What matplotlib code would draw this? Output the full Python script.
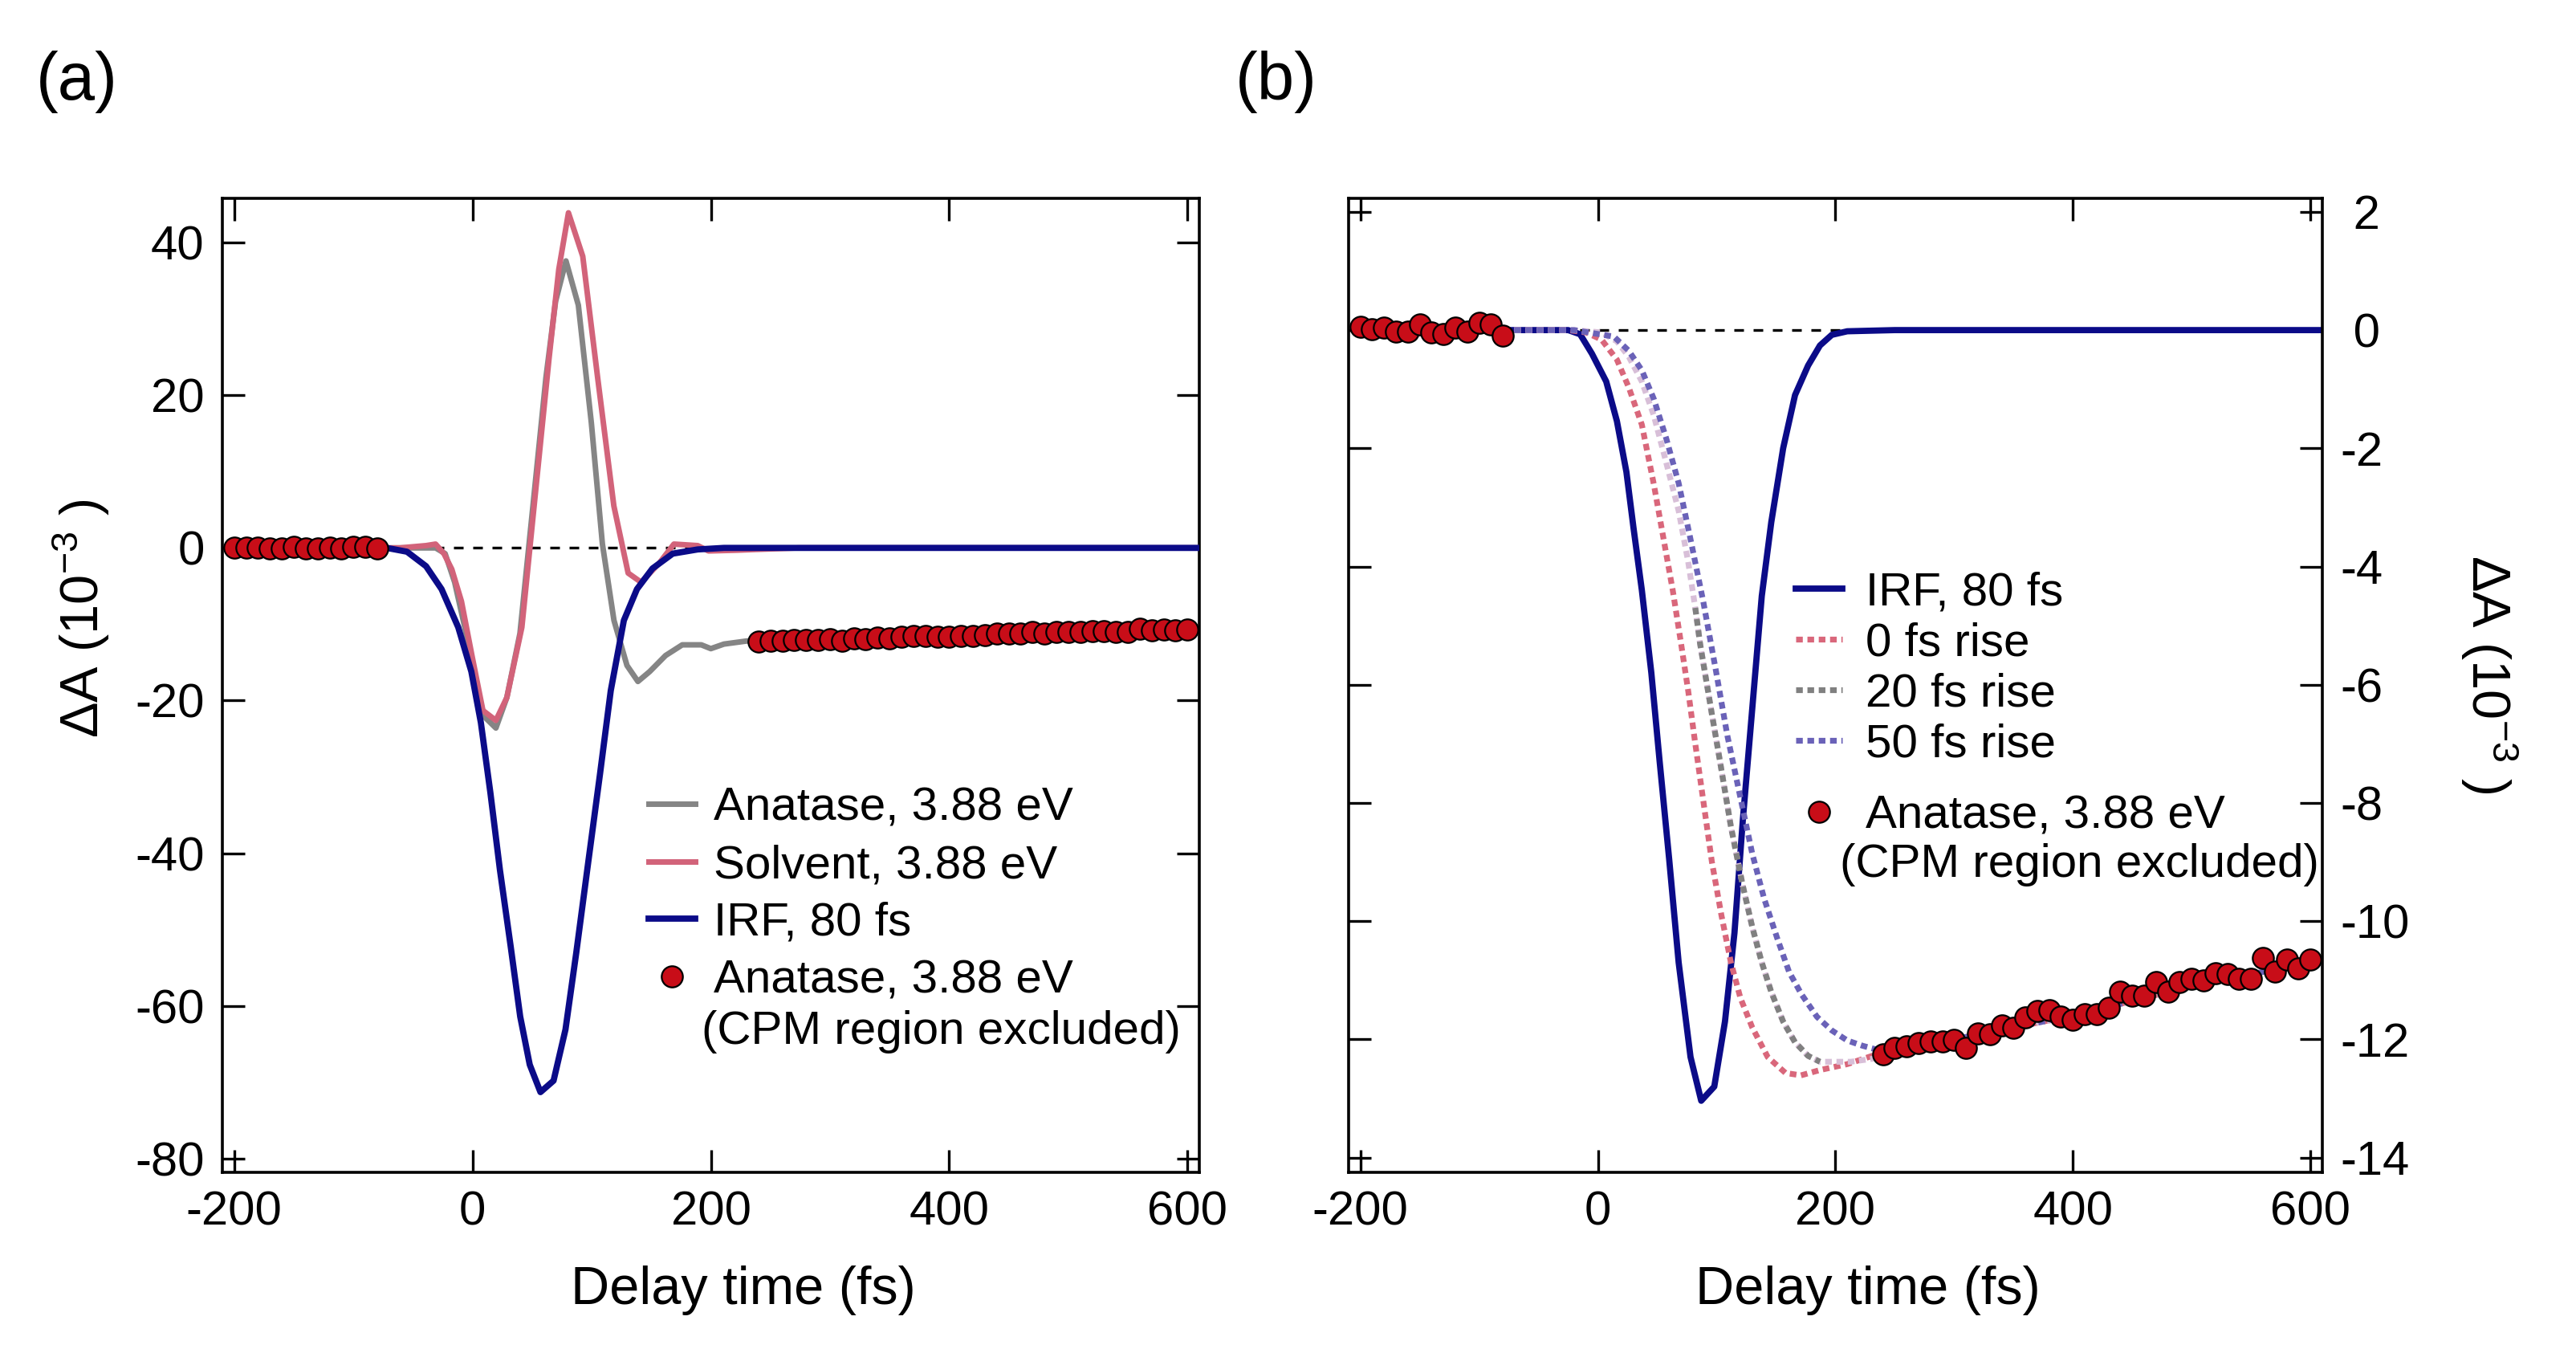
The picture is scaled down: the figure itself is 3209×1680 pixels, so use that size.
import matplotlib
matplotlib.use('Agg')
import matplotlib.pyplot as plt
from matplotlib.ticker import FuncFormatter

plt.rcParams['font.family'] = ['Liberation Sans', 'DejaVu Sans']
plt.rcParams['mathtext.default'] = 'regular'
plt.rcParams['axes.unicode_minus'] = False

# ---------------- data (delay in fs, dA in 1e-3) ----------------
# Anatase, 3.88 eV, CPM region excluded (circles)
pts_t_early = [-200, -190, -180, -170, -160, -150, -140, -130, -120, -110, -100, -90, -80]
pts_a_early = [0.05, 0.02, 0.04, -0.03, -0.02, 0.10, -0.04, -0.06, 0.04, -0.03, 0.12, 0.09, -0.10]
pts_t_late = [240, 250, 260, 270, 280, 290, 300, 310, 320, 330, 340, 350, 360, 370, 380,
              390, 400, 410, 420, 430, 440, 450, 460, 470, 480, 490, 500, 510, 520, 530,
              540, 550, 560, 570, 580, 590, 600]
pts_a_late = [-12.26, -12.14, -12.12, -12.07, -12.03, -12.04, -12.01, -12.14, -11.90, -11.91,
              -11.77, -11.81, -11.63, -11.52, -11.50, -11.62, -11.67, -11.57, -11.58, -11.47,
              -11.19, -11.26, -11.26, -11.03, -11.20, -11.03, -10.98, -11.00, -10.88, -10.90,
              -10.97, -10.98, -10.63, -10.85, -10.65, -10.80, -10.65]

# Panel (a): Anatase (full trace), solvent, IRF
anatase_t = [-72, -61, -31, -23, -15, -6.5, 1.6, 9.8, 19.6, 28.8, 39.8, 50.7, 61.6, 69.7, 78.4,
             88.8, 99.7, 109, 118.7, 129.6, 138.8, 148.7, 162, 176, 192, 200, 211, 230, 240,
             300, 400, 500, 600]
anatase_a = [0, 0, 0, -0.75, -4.5, -10.4, -17.1, -22.1, -23.6, -19.6, -11.2, 5.5, 22.3, 32.3, 37.6,
             31.8, 16.4, 0.5, -9.5, -15.4, -17.5, -16.2, -14.1, -12.7, -12.7, -13.2, -12.6, -12.2, -12.2,
             -12.0, -11.6, -11.0, -10.7]
solvent_t = [-72, -61, -39, -31, -24, -17.4, -9.3, -1, 8.7, 19.6, 28.8, 41.4, 53.3, 64.2, 72.4,
             80.5, 92.5, 105, 118.6, 130.6, 141.5, 156.7, 169, 189, 198, 222, 238, 274, 400, 610]
solvent_a = [0, 0, 0.3, 0.5, -0.75, -2.8, -7.0, -13.7, -21.3, -22.6, -19.6, -10.4, 8.0, 24.8, 36.5,
             43.9, 38.2, 22.3, 5.5, -3.3, -4.5, -2.0, 0.5, 0.3, -0.4, -0.3, -0.2, 0, 0, 0]
irf_a_t = [-80, -72, -55, -39, -26, -12, -1, 7, 15, 23, 32, 40, 48, 57, 68, 78, 87, 97, 107, 116,
           127, 138, 151, 168, 189, 211, 300, 400, 500, 610]
irf_a_a = [0, 0, -0.5, -2.4, -5.4, -10.4, -16.2, -22.9, -32.1, -42.2, -52.2, -61.4, -67.7, -71.3,
           -69.8, -63.1, -53.1, -41.3, -29.6, -18.7, -9.5, -5.4, -2.7, -0.75, -0.2, 0, 0, 0, 0, 0]

# Panel (b): IRF and fits with rise times
irf_b_t = [-80, -25, -15, -5, 7, 16, 24, 30, 37, 45, 52, 60, 68, 73, 78, 87, 98, 107, 115, 122,
           130, 138, 146, 156, 166, 177, 187, 197, 210, 250, 400, 610]
irf_b_a = [0, 0, -0.07, -0.4, -0.87, -1.54, -2.4, -3.35, -4.4, -5.8, -7.3, -8.95, -10.7, -11.5,
           -12.3, -13.04, -12.8, -11.7, -10.2, -8.3, -6.4, -4.5, -3.25, -2.0, -1.1, -0.6, -0.26,
           -0.08, -0.02, 0, 0, 0]
rise0_t = [-80, -25, -10, 3, 16, 26, 37, 47, 55, 63, 70, 76, 82, 89, 96, 104, 112, 120, 130, 143,
           158, 171, 187, 210, 231, 240, 300, 400, 500, 600]
rise0_a = [0, 0, -0.04, -0.16, -0.5, -0.97, -1.6, -2.6, -3.5, -4.4, -5.3, -6.1, -7.0, -8.0, -9.0,
           -9.9, -10.7, -11.3, -11.8, -12.3, -12.57, -12.61, -12.52, -12.42, -12.28, -12.26,
           -12.0, -11.6, -11.1, -10.7]
rise20_t = [-80, -20, 3, 16, 26, 37, 47, 57, 68, 76, 82, 86, 91, 96, 102, 107, 112, 117, 122, 130,
            138, 146, 156, 166, 177, 187, 197, 213, 231, 240, 300, 400, 500, 600]
rise20_a = [0, 0, -0.04, -0.19, -0.45, -0.87, -1.44, -2.2, -3.06, -3.92, -4.7, -5.3, -5.9, -6.5,
            -7.2, -7.8, -8.4, -8.9, -9.4, -10.1, -10.7, -11.2, -11.7, -12.05, -12.28, -12.38,
            -12.38, -12.38, -12.33, -12.28, -12.0, -11.6, -11.1, -10.7]
rise50_t = [-80, -20, 13.5, 26, 37, 47, 57.5, 68, 78, 88.6, 99, 109, 120, 130, 140, 151, 161,
            171.5, 184.5, 197, 210, 223, 234, 240, 300, 400, 500, 600]
rise50_a = [0, 0, -0.11, -0.35, -0.68, -1.16, -1.83, -2.59, -3.54, -4.58, -5.72, -6.86, -7.91,
            -8.86, -9.62, -10.29, -10.86, -11.24, -11.62, -11.85, -12.02, -12.11, -12.17, -12.2,
            -12.0, -11.6, -11.1, -10.7]

xticks = [-200, 0, 200, 400, 600]
yticks_a = [-80, -60, -40, -20, 0, 20, 40]
yticks_b = [-14, -12, -10, -8, -6, -4, -2, 0, 2]

# ---------------- style ----------------
NAVY = '#0b0b88'
PINK = '#d2637a'
GRAY = '#858585'
RED = '#c80d18'
DPINK = '#d9677b'
DGRAY = '#808080'
DBLUE = '#6a62b8'
THISTLE = '#d8bfd8'
FS_TICK = 21.5
FS_LAB = 24
FS_LEG = 21
dots = (0, (1.15, 0.8))
LW_DOT = 2.6

fig = plt.figure(figsize=(16.045, 8.4), dpi=200)
axa = fig.add_axes([0.0863, 0.131, 0.3793, 0.722])
axb = fig.add_axes([0.5235, 0.131, 0.378, 0.722])

for ax in (axa, axb):
    ax.axhline(0, color='k', lw=1.2, ls=(0, (3.6, 3.6)), zorder=1)
    ax.set_xlim(-210, 610)
    ax.set_xticks(xticks)
    ax.tick_params(direction='in', length=10, width=1.2, top=True, right=True,
                   labelsize=FS_TICK, pad=8)
    for s in ax.spines.values():
        s.set_linewidth(1.3)
    ax.set_xlabel('Delay time (fs)', fontsize=FS_LAB)
    ax.xaxis.set_label_coords(0.533, -0.121)
    ax.xaxis.label.set_va('center')

# ---- panel (a)
l_an, = axa.plot(anatase_t, anatase_a, color=GRAY, lw=2.5, zorder=2)
l_sv, = axa.plot(solvent_t, solvent_a, color=PINK, lw=2.5, zorder=3)
l_irf, = axa.plot(irf_a_t, irf_a_a, color=NAVY, lw=2.8, zorder=4)
mk = dict(ls='none', marker='o', ms=9.5, mfc=RED, mec='k', mew=0.8, zorder=6)
c_a, = axa.plot(pts_t_early, pts_a_early, **mk)
axa.plot(pts_t_late, pts_a_late, **mk)
axa.set_ylim(-81.8, 45.8)
axa.set_yticks(yticks_a)
axa.set_ylabel(r'ΔA (10$^{-3}$ )', fontsize=FS_LAB, rotation=90, rotation_mode='default')
axa.yaxis.set_label_coords(-0.144, 0.569)
axa.yaxis.label.set_ha('center')
axa.yaxis.label.set_va('center')
axa.legend([l_an, l_sv, l_irf, c_a],
           ['Anatase, 3.88 eV', 'Solvent, 3.88 eV', 'IRF, 80 fs', 'Anatase, 3.88 eV'],
           loc='upper left', bbox_to_anchor=(0.436, 0.396), frameon=False, fontsize=FS_LEG,
           handlelength=1.0, handletextpad=0.4, labelspacing=0.3, borderpad=0,
           borderaxespad=0, numpoints=1)
axa.text(0.4905, 0.144, '(CPM region excluded)', transform=axa.transAxes,
         fontsize=FS_LEG, ha='left', va='center')

# ---- panel (b)
b_irf, = axb.plot(irf_b_t, irf_b_a, color=NAVY, lw=2.8, zorder=2)
b_r0, = axb.plot(rise0_t, rise0_a, color=DPINK, lw=LW_DOT, ls=dots, zorder=3)
axb.plot(rise20_t, rise20_a, color=THISTLE, lw=LW_DOT, ls=dots, zorder=3)
b_r20, = axb.plot(rise20_t[10:26], rise20_a[10:26], color=DGRAY, lw=LW_DOT, ls=dots, zorder=3.5)
b_r50, = axb.plot(rise50_t, rise50_a, color=DBLUE, lw=LW_DOT, ls=dots, zorder=3)
c_b, = axb.plot(pts_t_early, pts_a_early, **mk)
axb.plot(pts_t_late, pts_a_late, **mk)
axb.set_ylim(-14.25, 2.23)
axb.set_yticks(yticks_b)
axb.yaxis.set_major_formatter(FuncFormatter(lambda v, p: ('%d' % v) if v < 0 else ' %d' % v))
axb.tick_params(labelleft=False, labelright=True)
axb.yaxis.set_label_position('right')
axb.set_ylabel(r'ΔA (10$^{-3}$ )', fontsize=FS_LAB, rotation=270, rotation_mode='default')
axb.yaxis.set_label_coords(1.171, 0.511)
axb.yaxis.label.set_ha('center')
axb.yaxis.label.set_va('center')
leg1 = axb.legend([b_irf, b_r0, b_r20, b_r50],
                  ['IRF, 80 fs', '0 fs rise', '20 fs rise', '50 fs rise'],
                  loc='upper left', bbox_to_anchor=(0.459, 0.617), frameon=False,
                  fontsize=FS_LEG, handlelength=1.0, handletextpad=0.5, labelspacing=0.155,
                  borderpad=0, borderaxespad=0)
axb.add_artist(leg1)
axb.legend([c_b], ['Anatase, 3.88 eV'],
           loc='upper left', bbox_to_anchor=(0.459, 0.388), frameon=False,
           fontsize=FS_LEG, handlelength=1.0, handletextpad=0.5,
           borderpad=0, borderaxespad=0, numpoints=1)
axb.text(0.5045, 0.316, '(CPM region excluded)', transform=axb.transAxes,
         fontsize=FS_LEG, ha='left', va='center')

fig.text(45 / 3209, 1 - 102 / 1680, '(a)', fontsize=30, ha='left', va='center')
fig.text(1539 / 3209, 1 - 102 / 1680, '(b)', fontsize=30, ha='left', va='center')

fig.savefig('out.png', dpi=200)
